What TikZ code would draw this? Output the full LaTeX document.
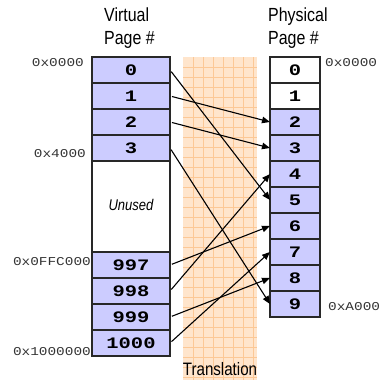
\documentclass[tikz,border=0pt]{standalone}
\usepackage{fontspec}
\setmainfont{Liberation Sans}
\newfontfamily\headfont[FakeStretch=0.84]{Liberation Sans}
\newfontfamily\cellfont[FakeStretch=1.28]{Liberation Mono}
\newfontfamily\addrfont[FakeStretch=1.2]{Liberation Mono}
\usetikzlibrary{positioning,arrows.meta}
\definecolor{pagefill}{RGB}{204,204,255}
\definecolor{bandfill}{RGB}{255,229,204}
\definecolor{bandgrid}{RGB}{252,200,150}
\definecolor{edgegray}{RGB}{40,40,40}

\begin{document}
\begin{tikzpicture}[x=1pt,y=-1pt]
\tikzset{
    vpage/.style={rectangle, draw=edgegray, line width=1.2pt, fill=pagefill, minimum width=78pt, minimum height=26pt, inner sep=0pt, outer sep=0pt, font=\cellfont\bfseries\fontsize{16}{16}\selectfont},
    ppage/.style={vpage, minimum width=50pt},
    freepage/.style={ppage, fill=white},
    addr/.style={font=\addrfont\fontsize{12}{12}\selectfont, text=black!80, inner sep=0pt},
    heading/.style={font=\headfont\fontsize{19}{23}\selectfont, align=left, inner sep=0pt},
    mapping/.style={line width=1.1pt, -{Triangle[length=8pt,width=6.5pt]}, shorten <=2pt}
}
\useasboundingbox (0,0) rectangle (379,380);
% translation band
\fill[bandfill] (183,57) rectangle (257,380);
\foreach \gx in {193,203,...,253} \draw[bandgrid, line width=0.7pt] (\gx,57) -- (\gx,380);
\foreach \gy in {67,77,...,377} \draw[bandgrid, line width=0.7pt] (183,\gy) -- (257,\gy);
\node[font=\headfont\fontsize{18}{18}\selectfont, anchor=base, inner sep=0pt] (trans) at (220,375) {Translation};

% virtual pages
\node[heading, anchor=north west] (vhead) at (104,8) {Virtual\\Page \#};
\node[vpage] (v0) at (131,70) {0};
\foreach \n [count=\prev from 0] in {1,2,3}
    \node[vpage, below=0pt of v\prev] (v\n) {\n};
\node[vpage, fill=white, minimum height=91pt, below=0pt of v3, font=\headfont\itshape\fontsize{15.5}{15.5}\selectfont] (unused) {\raisebox{3pt}{Unused}};
\node[vpage, below=0pt of unused] (v997) {997};
\foreach \n [remember=\n as \prev (initially 997)] in {998,999,1000}
    \node[vpage, below=0pt of v\prev] (v\n) {\n};

% physical pages
\node[heading, anchor=north west] (phead) at (268,8) {Physical\\Page \#};
\node[freepage] (p0) at (295,70) {0};
\node[freepage, below=0pt of p0] (p1) {1};
\foreach \n [count=\prev from 1] in {2,...,9}
    \node[ppage, below=0pt of p\prev] (p\n) {\n};

% addresses
\node[addr, anchor=east] (va0) at (84,63) {0x0000};
\node[addr, anchor=east] (va4) at (86,154) {0x4000};
\node[addr, anchor=east] (va997) at (91,262) {0x0FFC000};
\node[addr, anchor=east] (va1000) at (91,352) {0x1000000};
\node[addr, anchor=west] (pa0) at (325,63) {0x0000};
\node[addr, anchor=west] (pa9) at (328,307) {0xA000};

% mappings
\draw[mapping] (v0.east) -- (p5.west);
\draw[mapping] (v1.east) -- (p2.west);
\draw[mapping] (v2.east) -- (p3.west);
\draw[mapping] (v3.east) -- (p9.west);
\draw[mapping] (v997.east) -- (p6.west);
\draw[mapping] (v998.east) -- (p4.west);
\draw[mapping] (v999.east) -- (p8.west);
\draw[mapping] (v1000.east) -- (p7.west);
\end{tikzpicture}
\end{document}
